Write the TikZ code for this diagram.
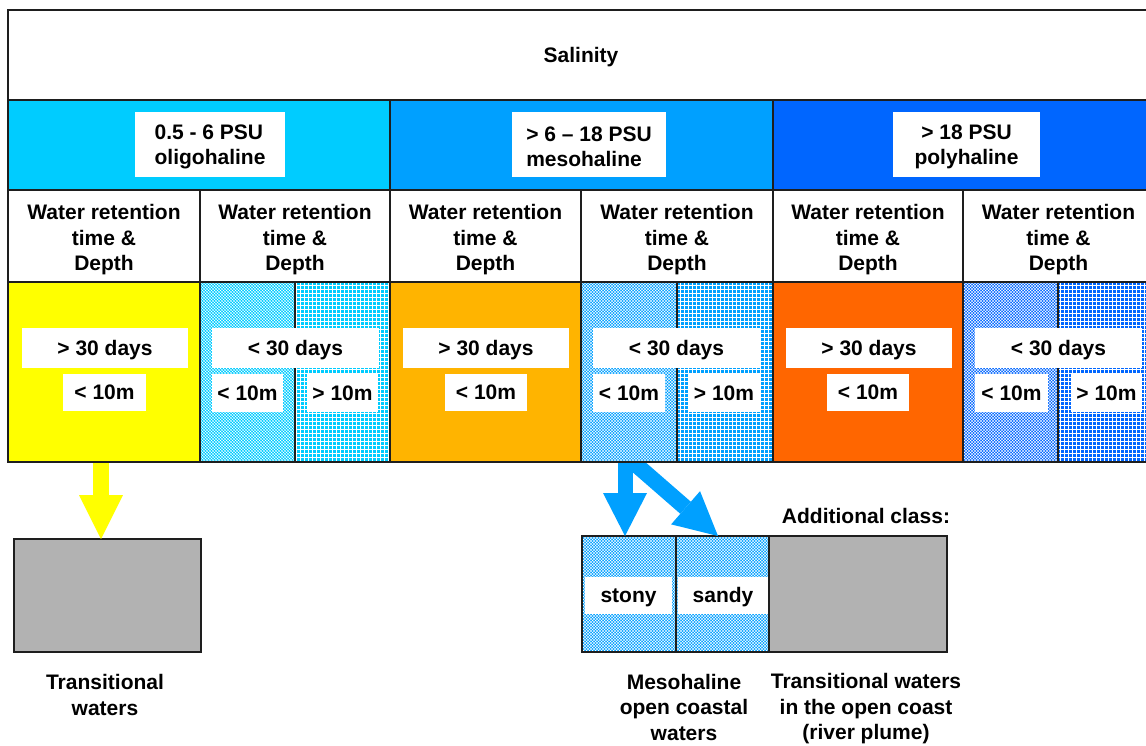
\documentclass[tikz,border=0pt]{standalone}
\usepackage{fontspec}
\setmainfont{Liberation Sans}
\usetikzlibrary{patterns,arrows.meta}
\pgfdeclarepatternformonly{fgrid}{\pgfqpoint{-1pt}{-1pt}}{\pgfqpoint{5pt}{5pt}}{\pgfqpoint{4pt}{4pt}}{%
  \pgfsetlinewidth{0.9pt}%
  \pgfpathmoveto{\pgfqpoint{0pt}{-1pt}}\pgfpathlineto{\pgfqpoint{0pt}{5pt}}%
  \pgfpathmoveto{\pgfqpoint{-1pt}{0pt}}\pgfpathlineto{\pgfqpoint{5pt}{0pt}}%
  \pgfusepath{stroke}}
\pgfdeclarepatternformonly{fdiag}{\pgfqpoint{-1pt}{-1pt}}{\pgfqpoint{4pt}{4pt}}{\pgfqpoint{3pt}{3pt}}{%
  \pgfsetlinewidth{0.35pt}%
  \pgfpathmoveto{\pgfqpoint{0pt}{0pt}}\pgfpathlineto{\pgfqpoint{3.1pt}{3.1pt}}%
  \pgfpathmoveto{\pgfqpoint{0pt}{3pt}}\pgfpathlineto{\pgfqpoint{3.1pt}{-0.1pt}}%
  \pgfusepath{stroke}}
\definecolor{cyanA}{HTML}{00CCFF}
\definecolor{blueB}{HTML}{00A0FF}
\definecolor{blueC}{HTML}{0066FF}
\definecolor{yelA}{HTML}{FFFF00}
\definecolor{orB}{HTML}{FFB400}
\definecolor{orC}{HTML}{FF6600}
\definecolor{grayBox}{HTML}{B2B2B2}
\definecolor{edge}{HTML}{1E1E1E}
\newcommand\txtfont{\fontsize{21}{25.5}\selectfont\bfseries}
\begin{document}
\begin{tikzpicture}[x=1pt,y=-1pt,
  cell/.style={draw=edge, line width=1.5pt, inner sep=0pt, outer sep=0pt, anchor=north west, align=center, font=\txtfont, text depth=0pt},
  lbl/.style={fill=white, inner sep=0pt, outer sep=0pt, anchor=north west, font=\txtfont, text depth=0pt},
  plain/.style={inner sep=0pt, align=center, font=\txtfont},
  gridfill/.style={preaction={fill=#1}, pattern=fgrid, pattern color=white},
  diagfill/.style={preaction={fill=#1}, pattern=fdiag, pattern color=white},
  blockarrow/.style={line width=#1}
]
\useasboundingbox (0,0) rectangle (1146,745);
\fill[white] (0,0) rectangle (1146,745);

% bottom boxes (needed for arrow targets)
\node[cell, fill=grayBox, minimum width=187pt, minimum height=113pt] (tw1) at (14,539) {};
\node[cell, diagfill=blueB, minimum width=94pt, minimum height=116pt] (st) at (582,536) {};
\node[cell, diagfill=blueB, minimum width=93pt, minimum height=116pt] (sd) at (676,536) {};
\node[cell, fill=grayBox, minimum width=178pt, minimum height=116pt] (tw2) at (769,536) {};

% arrows (behind the table)
\coordinate (ya) at (101,455);
\coordinate (ba) at (625,455);
\draw[yelA, blockarrow=16pt, -{Triangle[width=44pt,length=44pt,line width=0pt]}] (ya) -- (ya |- tw1.north);
\draw[blueB, blockarrow=15pt, -{Triangle[width=44pt,length=43pt,line width=0pt]}] (ba) -- (ba |- st.north);
\draw[blueB, blockarrow=16pt, -{Triangle[width=44pt,length=43pt,line width=0pt]}] (ba) -- ([xshift=-4.5pt]sd.north);

% row 1
\node[cell, fill=white, minimum width=1146pt, minimum height=90pt] (sal) at (8,10) {Salinity};
% row 2
\node[cell, fill=cyanA, minimum width=382pt, minimum height=90pt] (p1) at (8,100) {};
\node[cell, fill=blueB, minimum width=383pt, minimum height=90pt] (p2) at (390,100) {};
\node[cell, fill=blueC, minimum width=381pt, minimum height=90pt] (p3) at (773,100) {};
% row 3
\node[cell, fill=white, minimum width=192pt, minimum height=92pt] (h1) at (8,190) {};
\node[cell, fill=white, minimum width=190pt, minimum height=92pt] (h2) at (200,190) {};
\node[cell, fill=white, minimum width=191pt, minimum height=92pt] (h3) at (390,190) {};
\node[cell, fill=white, minimum width=192pt, minimum height=92pt] (h4) at (581,190) {};
\node[cell, fill=white, minimum width=190pt, minimum height=92pt] (h5) at (773,190) {};
\node[cell, fill=white, minimum width=191pt, minimum height=92pt] (h6) at (963,190) {};
\foreach \h in {h1,h2,h3,h4,h5,h6}
  \node[plain] (\h t) at ([yshift=-4pt]\h.center) {Water retention\\time \&\\Depth};
% row 4
\node[cell, fill=yelA, minimum width=192pt, minimum height=180pt] (c1) at (8,282) {};
\node[cell, diagfill=cyanA, minimum width=95pt, minimum height=180pt] (c2a) at (200,282) {};
\node[cell, gridfill=cyanA, minimum width=95pt, minimum height=180pt] (c2b) at (295,282) {};
\node[cell, fill=orB, minimum width=191pt, minimum height=180pt] (c3) at (390,282) {};
\node[cell, diagfill=blueB, minimum width=96pt, minimum height=180pt] (c4a) at (581,282) {};
\node[cell, gridfill=blueB, minimum width=96pt, minimum height=180pt] (c4b) at (677,282) {};
\node[cell, fill=orC, minimum width=190pt, minimum height=180pt] (c5) at (773,282) {};
\node[cell, diagfill=blueC, minimum width=95pt, minimum height=180pt] (c6a) at (963,282) {};
\node[cell, gridfill=blueC, minimum width=96pt, minimum height=180pt] (c6b) at (1058,282) {};

% PSU labels
\node[lbl, minimum width=150pt, minimum height=65pt] (l1) at (135,112) {};
\node[lbl, minimum width=154pt, minimum height=65pt] (l2) at (512,112) {};
\node[lbl, minimum width=147pt, minimum height=65pt] (l3) at (893,112) {};
\node[plain, align=left] (l1t) at ([yshift=-2.5pt]l1.center) {0.5 - 6 PSU\\oligohaline};
\node[plain, align=left] (l2t) at ([yshift=-2.5pt]l2.center) {> 6 – 18 PSU\\mesohaline};
\node[plain, align=center] (l3t) at ([yshift=-2.5pt]l3.center) {> 18 PSU\\polyhaline};

% row 4 labels
\node[lbl, minimum width=166pt, minimum height=40pt] (d1) at (22,328) {> 30 days};
\node[lbl, minimum width=83pt, minimum height=37pt] (m1) at (63,374) {< 10m};
\node[lbl, minimum width=167pt, minimum height=40pt] (d2) at (212,328) {< 30 days};
\node[lbl, minimum width=71pt, minimum height=38pt] (m2a) at (212,374) {< 10m};
\node[lbl, minimum width=71pt, minimum height=38pt] (m2b) at (307,374) {> 10m};
\node[lbl, minimum width=166pt, minimum height=40pt] (d3) at (403,328) {> 30 days};
\node[lbl, minimum width=82pt, minimum height=37pt] (m3) at (445,374) {< 10m};
\node[lbl, minimum width=167pt, minimum height=40pt] (d4) at (593,328) {< 30 days};
\node[lbl, minimum width=72pt, minimum height=38pt] (m4a) at (593,374) {< 10m};
\node[lbl, minimum width=72pt, minimum height=38pt] (m4b) at (688,374) {> 10m};
\node[lbl, minimum width=166pt, minimum height=40pt] (d5) at (786,328) {> 30 days};
\node[lbl, minimum width=82pt, minimum height=37pt] (m5) at (827,374) {< 10m};
\node[lbl, minimum width=167pt, minimum height=40pt] (d6) at (975,328) {< 30 days};
\node[lbl, minimum width=73pt, minimum height=38pt] (m6a) at (975,374) {< 10m};
\node[lbl, minimum width=71pt, minimum height=38pt] (m6b) at (1071,374) {> 10m};

% bottom labels
\node[lbl, minimum width=87pt, minimum height=37pt] (stl) at (585,577) {};
\node[lbl, minimum width=90pt, minimum height=37pt] (sdl) at (678,577) {};
\node[plain, anchor=base] (stt) at ([yshift=-7pt]stl.center) {stony};
\node[plain, anchor=base] (sdt) at ([yshift=-7pt]sdl.center) {sandy};
\node[plain] (add) at (866,516) {Additional class:};
\node[plain] (t1) at (105,695) {Transitional\\waters};
\node[plain] (t2) at (684,707) {Mesohaline\\open coastal\\waters};
\node[plain] (t3) at (866,709) {Transitional waters\\in the open coast\\(river plume)};
\end{tikzpicture}
\end{document}
